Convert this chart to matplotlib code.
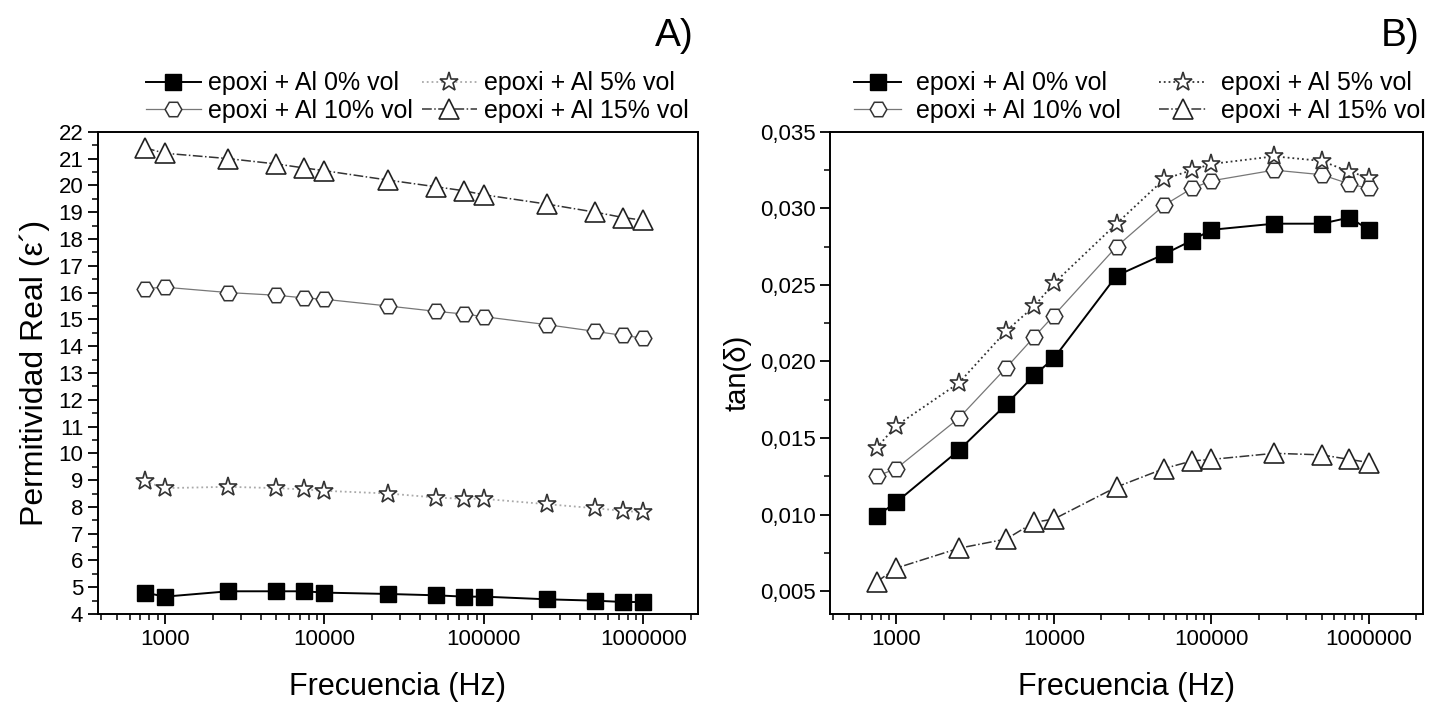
import numpy as np
import matplotlib
matplotlib.use('Agg')
import matplotlib.pyplot as plt
from matplotlib.ticker import FuncFormatter, MultipleLocator, LogLocator, NullFormatter, FixedLocator

plt.rcParams['font.family'] = ['Liberation Sans', 'DejaVu Sans']

freq = [750, 1000, 2500, 5000, 7500, 10000, 25000, 50000, 75000,
        100000, 250000, 500000, 750000, 1000000]
labels = ['epoxi + Al 0% vol', 'epoxi + Al 5% vol',
          'epoxi + Al 10% vol', 'epoxi + Al 15% vol']

# panel A: permitividad real
perm_0 = [4.8, 4.65, 4.85, 4.85, 4.85, 4.8, 4.75, 4.7, 4.65, 4.65, 4.55, 4.5, 4.45, 4.45]
perm_5 = [8.95, 8.7, 8.75, 8.7, 8.65, 8.6, 8.5, 8.35, 8.3, 8.3, 8.1, 7.95, 7.85, 7.8]
perm_10 = [16.15, 16.2, 16.0, 15.9, 15.8, 15.75, 15.5, 15.3, 15.2, 15.1, 14.8, 14.55, 14.4, 14.3]
perm_15 = [21.4, 21.2, 21.0, 20.8, 20.65, 20.55, 20.2, 19.95, 19.8, 19.65, 19.3, 19.0, 18.8, 18.7]

# panel B: tan(delta)
tan_0 = [0.0099, 0.0108, 0.0142, 0.0172, 0.0191, 0.0202, 0.0256, 0.0270, 0.0279,
         0.0286, 0.0290, 0.0290, 0.0294, 0.0286]
tan_5 = [0.01435, 0.0158, 0.0186, 0.0220, 0.0236, 0.0251, 0.0290, 0.0319, 0.0325,
         0.0329, 0.0334, 0.0331, 0.0324, 0.0320]
tan_10 = [0.0125, 0.0130, 0.0163, 0.0196, 0.0216, 0.0230, 0.0275, 0.0302, 0.0313,
          0.0318, 0.0325, 0.0322, 0.0316, 0.0313]
tan_15 = [0.0056, 0.0065, 0.0078, 0.0084, 0.0095, 0.0097, 0.0118, 0.0130, 0.0135,
          0.0136, 0.0140, 0.0139, 0.0136, 0.0134]

fig = plt.figure(figsize=(14.51, 7.05), dpi=100)
axA = fig.add_axes([0.0675, 0.129, 0.4135, 0.684])
axB = fig.add_axes([0.572, 0.129, 0.4087, 0.684])


def draw(ax, ys, c5):
    ms = 11
    l0, = ax.plot(freq, ys[0], '-', color='black', lw=1.4, marker='s', ms=ms,
                  mfc='black', mec='black', label=labels[0])
    l5, = ax.plot(freq, ys[1], ':', color=c5, lw=1.3, marker='*', ms=ms + 3,
                  mfc='white', mec='#333333', mew=1.2, label=labels[1])
    l10, = ax.plot(freq, ys[2], '-', color='#777777', lw=0.9, marker='H', ms=ms + 1,
                   mfc='white', mec='#333333', mew=1.1, label=labels[2])
    l15, = ax.plot(freq, ys[3], '-.', color='#333333', lw=1.1, marker='^', ms=ms + 3,
                   mfc='white', mec='#222222', mew=1.2, label=labels[3])
    return [l0, l5, l10, l15]


hA = draw(axA, [perm_0, perm_5, perm_10, perm_15], '#aaaaaa')
hB = draw(axB, [tan_0, tan_5, tan_10, tan_15], '#333333')

legend_opts = {axA: dict(handlelength=2.2, handletextpad=0.3, columnspacing=0.35, x=1.0),
               axB: dict(handlelength=1.9, handletextpad=0.6, columnspacing=1.5, x=1.02)}

for ax, h in ((axA, hA), (axB, hB)):
    ax.set_xscale('log')
    ax.set_xlim(380, 2.2e6)
    ax.xaxis.set_major_locator(FixedLocator([1e3, 1e4, 1e5, 1e6]))
    ax.xaxis.set_major_formatter(FuncFormatter(lambda v, p: '%d' % round(v)))
    ax.xaxis.set_minor_locator(LogLocator(base=10, subs=np.arange(2, 10)))
    ax.xaxis.set_minor_formatter(NullFormatter())
    ax.tick_params(which='major', direction='out', length=7, width=1.3, labelsize=16)
    ax.tick_params(which='minor', direction='out', length=4, width=1.1)
    for s in ax.spines.values():
        s.set_linewidth(1.4)
    ax.set_xlabel('Frecuencia (Hz)', fontsize=22, labelpad=16)
    o = legend_opts[ax]
    # row order: 0%, 5% / 10%, 15%
    ax.legend(handles=[h[0], h[2], h[1], h[3]], ncol=2, loc='lower right',
              bbox_to_anchor=(o['x'], 1.0), frameon=False, fontsize=18,
              handlelength=o['handlelength'], handletextpad=o['handletextpad'],
              columnspacing=o['columnspacing'],
              labelspacing=0.15, borderaxespad=0.15, borderpad=0.2)

axA.set_ylim(4, 22)
axA.yaxis.set_major_locator(MultipleLocator(1))
axA.yaxis.set_minor_locator(MultipleLocator(0.5))
axA.set_ylabel('Permitividad Real (ε´)', fontsize=23, labelpad=6)

axB.set_ylim(0.0035, 0.035)
axB.yaxis.set_major_locator(MultipleLocator(0.005))
axB.yaxis.set_minor_locator(MultipleLocator(0.0025))
axB.yaxis.set_major_formatter(FuncFormatter(lambda v, p: ('%.3f' % v).replace('.', ',')))
axB.set_ylabel('tan(δ)', fontsize=21, labelpad=6)

fig.text(0.478, 0.935, 'A)', fontsize=28, ha='right')
fig.text(0.978, 0.935, 'B)', fontsize=28, ha='right')

plt.savefig('out.png', dpi=100)
